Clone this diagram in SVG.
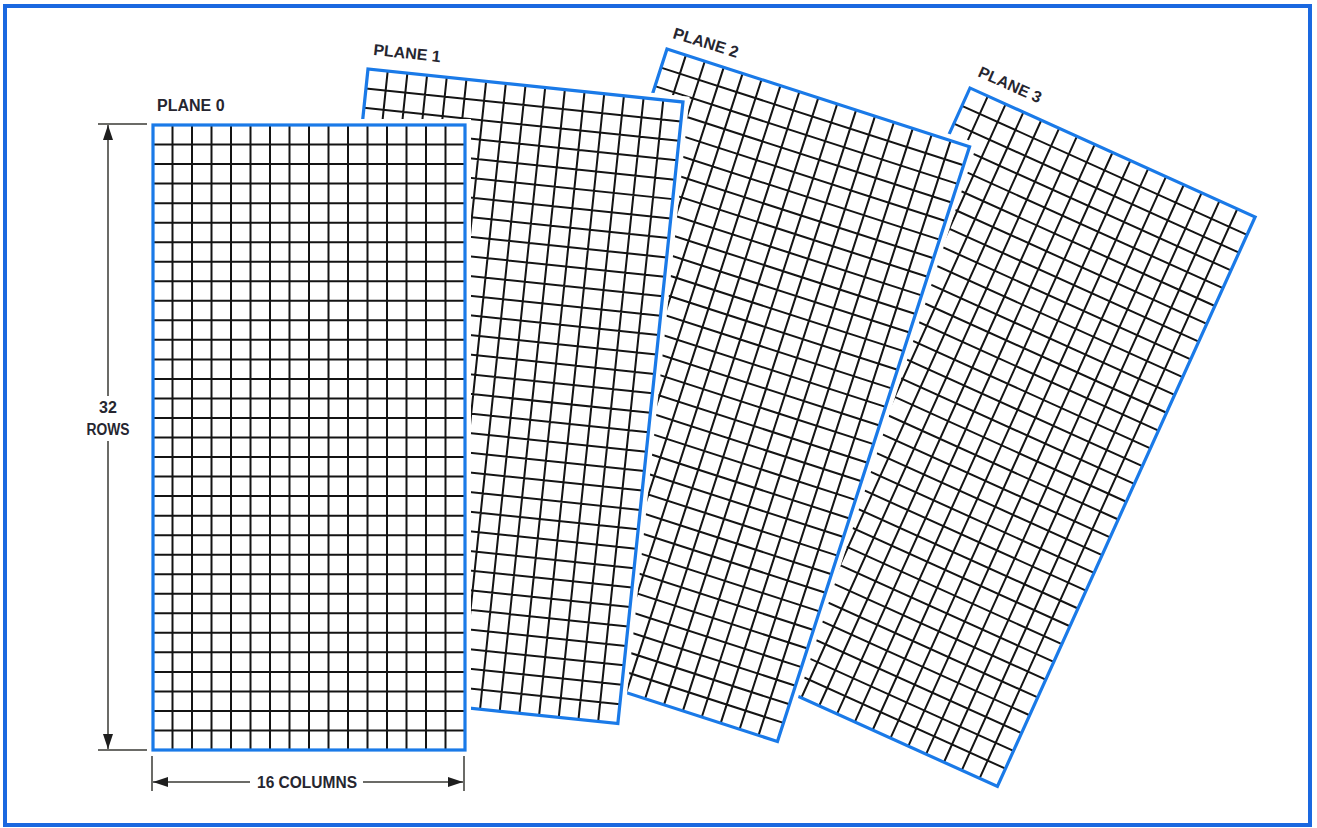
<svg xmlns="http://www.w3.org/2000/svg" xmlns:xlink="http://www.w3.org/1999/xlink" width="1317" height="828" viewBox="0 0 1317 828">
<style>
.halo{fill:#fff;stroke:#fff;stroke-width:12}
.grid{fill:none;stroke:#141414;stroke-width:2}
.border{fill:none;stroke:#1a7ae8;stroke-width:3.2;stroke-linejoin:miter}
.lbl{font-family:"Liberation Sans",Arial,sans-serif;font-weight:bold;font-size:16px;fill:#262630}
.dim{stroke:#3a3a34;stroke-width:1.5;fill:none}
</style>
<defs>
<marker id="arr" markerUnits="userSpaceOnUse" markerWidth="15" markerHeight="10" refX="15" refY="5" orient="auto" viewBox="0 0 15 10">
<path d="M0,0 L15,5 L0,10 z" fill="#1e1e1e"/>
</marker>
<path id="gridpath" d="M19.5 0V625M39 0V625M58.5 0V625M78 0V625M97.5 0V625M117 0V625M136.5 0V625M156 0V625M175.5 0V625M195 0V625M214.5 0V625M234 0V625M253.5 0V625M273 0V625M292.5 0V625M0 19.53H312M0 39.06H312M0 58.59H312M0 78.13H312M0 97.66H312M0 117.19H312M0 136.72H312M0 156.25H312M0 175.78H312M0 195.31H312M0 214.84H312M0 234.38H312M0 253.91H312M0 273.44H312M0 292.97H312M0 312.5H312M0 332.03H312M0 351.56H312M0 371.09H312M0 390.63H312M0 410.16H312M0 429.69H312M0 449.22H312M0 468.75H312M0 488.28H312M0 507.81H312M0 527.34H312M0 546.88H312M0 566.41H312M0 585.94H312M0 605.47H312"/>
</defs>
<rect x="0" y="0" width="1317" height="828" fill="#fff"/>
<rect id="frame" x="5" y="6" width="1305" height="819" fill="none" stroke="#1a68e0" stroke-width="4"/>

<g id="plane3">
<g transform="translate(970,88) rotate(24.35) scale(1.003,1)">
<rect class="halo" x="0" y="0" width="312" height="625"/>
<use xlink:href="#gridpath" class="grid"/>
<rect class="border" x="0" y="0" width="312" height="625"/>
</g>
<text class="lbl" transform="translate(977,76) rotate(24)">PLANE 3</text>
</g>

<g id="plane2">
<g transform="translate(667,49) rotate(17.9) scale(1.019,1)">
<rect class="halo" x="0" y="0" width="312" height="625"/>
<use xlink:href="#gridpath" class="grid"/>
<rect class="border" x="0" y="0" width="312" height="625"/>
</g>
<text class="lbl" transform="translate(672,38) rotate(17)">PLANE 2</text>
</g>

<g id="plane1">
<g transform="translate(368,69) rotate(5.98) scale(1.015,1)">
<rect class="halo" x="0" y="0" width="312" height="625"/>
<use xlink:href="#gridpath" class="grid"/>
<rect class="border" x="0" y="0" width="312" height="625"/>
</g>
<text class="lbl" transform="translate(373,55) rotate(6)">PLANE 1</text>
</g>

<g id="plane0">
<g transform="translate(153,125)">
<rect class="halo" x="0" y="0" width="312" height="625"/>
<use xlink:href="#gridpath" class="grid"/>
<rect class="border" x="0" y="0" width="312" height="625"/>
</g>
<text class="lbl" x="157" y="111">PLANE 0</text>
</g>

<g id="connectors">
<line class="dim" x1="98" y1="124" x2="147" y2="124"/>
<line class="dim" x1="98" y1="750" x2="147" y2="750"/>
<line class="dim" x1="108" y1="396" x2="108" y2="125" marker-end="url(#arr)"/>
<line class="dim" x1="108" y1="441" x2="108" y2="749" marker-end="url(#arr)"/>
<line class="dim" x1="152" y1="756" x2="152" y2="791"/>
<line class="dim" x1="464" y1="756" x2="464" y2="791"/>
<line class="dim" x1="250" y1="782" x2="153" y2="782" marker-end="url(#arr)"/>
<line class="dim" x1="363" y1="782" x2="463" y2="782" marker-end="url(#arr)"/>
</g>

<g id="dim-labels">
<text class="lbl" x="108" y="413" text-anchor="middle">32</text>
<text class="lbl" x="86.5" y="435" textLength="43" lengthAdjust="spacingAndGlyphs">ROWS</text>
<text class="lbl" x="257" y="788" textLength="100" lengthAdjust="spacingAndGlyphs">16 COLUMNS</text>
</g>
</svg>
